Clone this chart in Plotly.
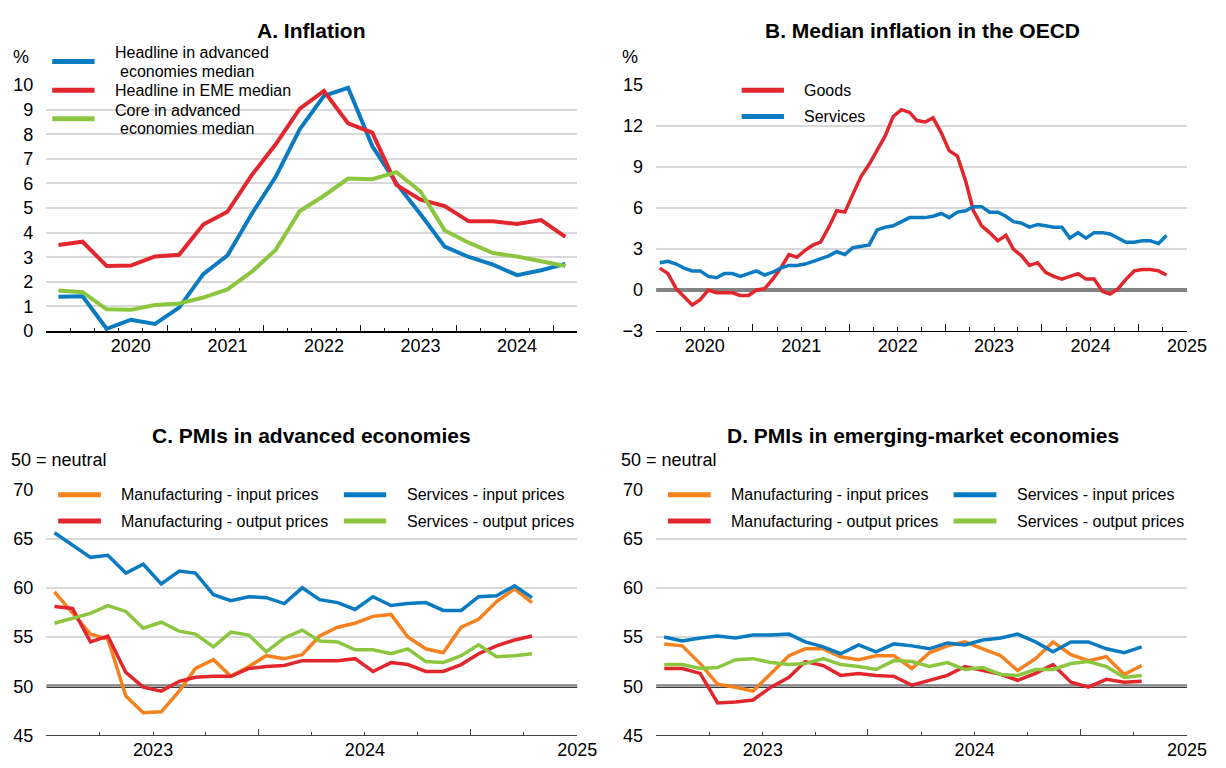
import plotly.graph_objects as go
import pandas as pd

# Page body keeps the browser's default 8px margin, so the figure is sized to fill
# the 1226x768 window exactly; layout positions below are given in window pixels.
WIN_W, WIN_H, BODY_M = 1226, 768, 8
W, H = WIN_W - 2 * BODY_M, WIN_H - 2 * BODY_M
FONT = "Liberation Sans"

BLUE = "#0A7BC1"
RED = "#E1262D"
GREEN = "#8CC63F"
ORANGE = "#F5821F"
GRID = "#D9D9D9"

# ---------------- Panel A: quarterly inflation (2019Q2 - 2024Q3) ----------------
quarters_A = [str(p) for p in pd.period_range("2019Q2", "2024Q3", freq="Q")]
headline_ae = [1.39, 1.41, 0.09, 0.46, 0.29, 0.95, 2.31, 3.07, 4.75, 6.27, 8.21,
               9.56, 9.89, 7.52, 6.00, 4.75, 3.43, 3.01, 2.70, 2.27, 2.47, 2.73]
headline_eme = [3.50, 3.63, 2.64, 2.66, 3.03, 3.10, 4.33, 4.85, 6.33, 7.59, 9.04,
                9.76, 8.44, 8.07, 5.94, 5.34, 5.08, 4.46, 4.46, 4.35, 4.51, 3.83]
core_ae = [1.65, 1.58, 0.88, 0.86, 1.06, 1.12, 1.36, 1.69, 2.40, 3.30, 4.88,
           5.50, 6.20, 6.17, 6.46, 5.67, 4.09, 3.59, 3.17, 3.03, 2.84, 2.64]
years_A = ["2020", "2021", "2022", "2023", "2024"]

# ---------------- Panel B: monthly median inflation OECD (Jul 2019 - Oct 2024) ----
months_B = pd.date_range("2019-07-01", "2024-10-01", freq="MS")
goods = [1.6, 1.2, 0.1, -0.5, -1.1, -0.7, 0.0, -0.2, -0.2, -0.2, -0.4, -0.4,
         0.0, 0.1, 0.8, 1.6, 2.6, 2.4, 2.9, 3.3, 3.5, 4.6, 5.8, 5.7,
         7.0, 8.3, 9.2, 10.2, 11.3, 12.7, 13.2, 13.0, 12.4, 12.3, 12.6, 11.5,
         10.2, 9.8, 8.0, 5.8, 4.7, 4.2, 3.6, 4.0, 3.0, 2.5, 1.8, 2.0,
         1.3, 1.0, 0.8, 1.0, 1.2, 0.8, 0.8, -0.1, -0.3, 0.1, 0.8, 1.4,
         1.5, 1.5, 1.4, 1.1]
services = [2.0, 2.1, 1.9, 1.6, 1.4, 1.4, 1.0, 0.9, 1.2, 1.2, 1.0, 1.2,
            1.4, 1.1, 1.3, 1.6, 1.8, 1.8, 1.9, 2.1, 2.3, 2.5, 2.8, 2.6,
            3.1, 3.2, 3.3, 4.4, 4.6, 4.7, 5.0, 5.3, 5.3, 5.3, 5.4, 5.6,
            5.3, 5.7, 5.8, 6.1, 6.1, 5.7, 5.7, 5.4, 5.0, 4.9, 4.6, 4.8,
            4.7, 4.6, 4.6, 3.8, 4.2, 3.8, 4.2, 4.2, 4.1, 3.8, 3.5, 3.5,
            3.6, 3.6, 3.4, 4.0]
years_B = ["2020", "2021", "2022", "2023", "2024", "2025"]

# ---------------- Panels C & D: monthly PMIs (Jul 2022 - Oct 2024) ----------------
months_CD = pd.date_range("2022-07-01", "2024-10-01", freq="MS")
years_CD = ["2023", "2024", "2025"]

ae_mfg_input = [59.6, 57.4, 55.3, 54.8, 49.0, 47.3, 47.4, 49.5, 51.8, 52.7, 51.0, 52.0,
                53.1, 52.8, 53.2, 55.1, 56.0, 56.4, 57.1, 57.3, 55.0, 53.8, 53.4, 56.0,
                56.8, 58.6, 59.9, 58.5]
ae_mfg_output = [58.1, 57.9, 54.5, 55.1, 51.4, 49.9, 49.5, 50.5, 50.9, 51.0, 51.0, 51.8,
                 52.0, 52.1, 52.6, 52.6, 52.6, 52.8, 51.5, 52.4, 52.2, 51.5, 51.5, 52.2,
                 53.3, 54.1, 54.7, 55.1]
ae_srv_input = [65.6, 64.3, 63.1, 63.3, 61.5, 62.4, 60.4, 61.7, 61.5, 59.3, 58.7, 59.1,
                59.0, 58.4, 60.0, 58.8, 58.5, 57.8, 59.1, 58.2, 58.4, 58.5, 57.7, 57.7,
                59.1, 59.2, 60.2, 59.0]
ae_srv_output = [56.4, 56.9, 57.4, 58.2, 57.6, 55.9, 56.5, 55.6, 55.3, 54.0, 55.5, 55.2,
                 53.5, 54.9, 55.7, 54.6, 54.5, 53.7, 53.7, 53.3, 53.8, 52.5, 52.4, 53.1,
                 54.2, 53.0, 53.1, 53.3]

eme_mfg_input = [54.3, 54.1, 52.3, 50.2, 49.9, 49.5, 51.3, 53.1, 53.8, 53.8, 53.0, 52.7,
                 53.1, 53.1, 51.8, 53.4, 54.1, 54.5, 53.8, 53.1, 51.6, 52.8, 54.5, 53.2,
                 52.6, 53.0, 51.2, 52.1]
eme_mfg_output = [51.8, 51.8, 51.3, 48.3, 48.4, 48.6, 49.9, 50.9, 52.5, 52.1, 51.1, 51.3,
                  51.1, 51.0, 50.1, 50.6, 51.1, 52.0, 51.6, 51.2, 50.6, 51.3, 52.2, 50.4,
                  49.9, 50.7, 50.4, 50.5]
eme_srv_input = [55.0, 54.6, 54.9, 55.1, 54.9, 55.2, 55.2, 55.3, 54.5, 54.0, 53.3, 54.2,
                 53.5, 54.3, 54.1, 53.8, 54.4, 54.2, 54.7, 54.9, 55.3, 54.5, 53.5, 54.5,
                 54.5, 53.8, 53.4, 54.0]
eme_srv_output = [52.2, 52.2, 51.8, 51.9, 52.7, 52.8, 52.4, 52.2, 52.3, 52.8, 52.2, 52.0,
                  51.7, 52.6, 52.5, 52.0, 52.4, 51.7, 51.9, 51.2, 51.1, 51.7, 51.7, 52.3,
                  52.5, 52.0, 50.9, 51.1]

PMI_NAMES = ["Manufacturing - input prices", "Services - input prices",
             "Manufacturing - output prices", "Services - output prices"]
PMI_COLORS = [ORANGE, BLUE, RED, GREEN]


def px(x):
    return (x - BODY_M) / W


def py(y):
    return 1 - (y - BODY_M) / H


fig = go.Figure()

# ---- axis ranges ----
rngA = [-0.5, len(quarters_A) - 0.5]
rngB = ["2019-07-01", "2025-01-01 08:00"]
rngCD = ["2022-07-01", "2025-01-01 08:00"]


def ref_line(xrng, yval, xa, ya, outer, inner):
    fig.add_trace(go.Scatter(x=xrng, y=[yval, yval], mode="lines", xaxis=xa, yaxis=ya,
                             line=dict(color=outer, width=3.4), showlegend=False,
                             hoverinfo="skip"))
    fig.add_trace(go.Scatter(x=xrng, y=[yval, yval], mode="lines", xaxis=xa, yaxis=ya,
                             line=dict(color=inner, width=1.3), showlegend=False,
                             hoverinfo="skip"))


ref_line(rngB, 0, "x2", "y2", "#5A5A5A", "#929292")
ref_line(rngCD, 50, "x3", "y3", "#3A3A3A", "#D6D6D6")
ref_line(rngCD, 50, "x4", "y4", "#3A3A3A", "#D6D6D6")

# ---- traces ----
xA = list(range(len(quarters_A)))
for name, vals, col in [("Headline in advanced economies median", headline_ae, BLUE),
                        ("Headline in EME median", headline_eme, RED),
                        ("Core in advanced economies median", core_ae, GREEN)]:
    fig.add_trace(go.Scatter(x=xA, y=vals, name=name, mode="lines",
                             line=dict(color=col, width=4), xaxis="x", yaxis="y",
                             showlegend=False))

xB = months_B + pd.Timedelta(days=14)
for name, vals, col in [("Goods", goods, RED), ("Services", services, BLUE)]:
    fig.add_trace(go.Scatter(x=xB, y=vals, name=name, mode="lines",
                             line=dict(color=col, width=3.5), xaxis="x2", yaxis="y2",
                             showlegend=False))

xCD = months_CD + pd.Timedelta(days=14)
for vals, name, col in [(ae_mfg_input, PMI_NAMES[0], ORANGE), (ae_mfg_output, PMI_NAMES[2], RED),
                        (ae_srv_input, PMI_NAMES[1], BLUE), (ae_srv_output, PMI_NAMES[3], GREEN)]:
    fig.add_trace(go.Scatter(x=xCD, y=vals, name=name, mode="lines",
                             line=dict(color=col, width=3.5), xaxis="x3", yaxis="y3",
                             showlegend=False))
for vals, name, col in [(eme_mfg_input, PMI_NAMES[0], ORANGE), (eme_mfg_output, PMI_NAMES[2], RED),
                        (eme_srv_input, PMI_NAMES[1], BLUE), (eme_srv_output, PMI_NAMES[3], GREEN)]:
    fig.add_trace(go.Scatter(x=xCD, y=vals, name=name, mode="lines",
                             line=dict(color=col, width=3.5), xaxis="x4", yaxis="y4",
                             showlegend=False))

# empty traces to register the year-label axes
for xa, ya in [("x5", "y"), ("x6", "y2"), ("x7", "y3"), ("x8", "y4")]:
    fig.add_trace(go.Scatter(x=[], y=[], xaxis=xa, yaxis=ya, showlegend=False,
                             hoverinfo="skip"))

# ---- axes ----
dom_left = [px(47), px(587)]
dom_right = [px(667), px(1207)]
dom_top = [py(330), py(77)]
dom_bot = [py(746), py(493)]

tickfont = dict(family=FONT, size=18, color="black")


def xaxis_main(domain, rng, typ, long_ticks, short_ticks, anchor, linecolor, linewidth):
    return dict(domain=domain, range=rng, type=typ, anchor=anchor,
                showgrid=False, zeroline=False, showline=True,
                linecolor=linecolor, linewidth=linewidth,
                tickmode="array", tickvals=long_ticks, ticks="inside", ticklen=6.5,
                tickwidth=1, tickcolor=linecolor, showticklabels=False,
                minor=dict(tickmode="array", tickvals=short_ticks, ticks="inside",
                           ticklen=3.5, tickwidth=1, tickcolor=linecolor, showgrid=False))


def xaxis_labels(overlay, rng, typ, vals, texts, anchor):
    return dict(overlaying=overlay, anchor=anchor, range=rng, type=typ,
                showgrid=False, zeroline=False, showline=False, ticks="",
                tickmode="array", tickvals=vals, ticktext=texts,
                tickfont=tickfont, ticklabelstandoff=2)


def yaxis(domain, rng, vals, anchor):
    return dict(domain=domain, range=rng, anchor=anchor, showgrid=True, gridcolor=GRID,
                gridwidth=1.5, zeroline=False, showline=False, ticks="",
                tickmode="array", tickvals=vals, tickfont=tickfont,
                ticklabelstandoff=12)


lab_pos_A = [quarters_A.index(y + "Q1") for y in years_A]
long_A = [p + 1.5 for p in lab_pos_A]
short_A = [i + 0.5 for i in range(len(quarters_A) - 1)]
qB = pd.date_range("2019-07-01", "2025-01-01", freq="QS-JAN")
long_B = [d for d in qB if d.month == 7]
short_B = list(qB)
lab_B = [pd.Timestamp(y + "-01-01") for y in years_B]
qCD = pd.date_range("2022-07-01", "2025-01-01", freq="QS-JAN")
long_CD = [d for d in qCD if d.month == 7]
short_CD = list(qCD)
lab_CD = [pd.Timestamp(y + "-01-01") for y in years_CD]

fig.update_layout(
    xaxis=xaxis_main(dom_left, rngA, "linear", long_A, short_A, "y", "black", 2),
    yaxis=yaxis(dom_top, [0, 10], list(range(0, 11)), "x"),
    xaxis2=xaxis_main(dom_right, rngB, "date", long_B, short_B, "y2", "black", 1.2),
    yaxis2=yaxis(dom_top, [-3, 15], list(range(-3, 16, 3)), "x2"),
    xaxis3=xaxis_main(dom_left, rngCD, "date", long_CD, short_CD, "y3", "#444444", 1.2),
    yaxis3=yaxis(dom_bot, [45, 70], list(range(45, 71, 5)), "x3"),
    xaxis4=xaxis_main(dom_right, rngCD, "date", long_CD, short_CD, "y4", "#444444", 1.2),
    yaxis4=yaxis(dom_bot, [45, 70], list(range(45, 71, 5)), "x4"),
    xaxis5=xaxis_labels("x", rngA, "linear", lab_pos_A, years_A, "y"),
    xaxis6=xaxis_labels("x2", rngB, "date", lab_B, years_B, "y2"),
    xaxis7=xaxis_labels("x3", rngCD, "date", lab_CD, years_CD, "y3"),
    xaxis8=xaxis_labels("x4", rngCD, "date", lab_CD, years_CD, "y4"),
)

shapes = []
annotations = []


def text(x, y, s, size=16, anchor="left", bold=False):
    annotations.append(dict(x=px(x), y=py(y), xref="paper", yref="paper",
                            text=("<b>%s</b>" % s) if bold else s,
                            showarrow=False, xanchor=anchor, yanchor="middle",
                            font=dict(family=FONT, size=size, color="black")))


def key(x0, x1, y, color):
    shapes.append(dict(type="line", xref="paper", yref="paper", x0=px(x0), x1=px(x1),
                       y0=py(y), y1=py(y), line=dict(color=color, width=5)))


# titles
text(317, 21, "A. Inflation", size=21, anchor="center", bold=True)
text(938, 21, "B. Median inflation in the OECD", size=21, anchor="center", bold=True)
text(317, 437, "C. PMIs in advanced economies", size=21, anchor="center", bold=True)
text(938, 437, "D. PMIs in emerging-market economies", size=21, anchor="center", bold=True)
# units
text(11, 48, "%", size=18)
text(630, 48, "%", size=18)
text(9, 463, "50 = neutral", size=18)
text(629, 463, "50 = neutral", size=18)

# Legend A
key(53, 96, 52.7, BLUE)
text(115, 44, "Headline in advanced")
text(119.5, 62.7, "economies median")
key(53, 96, 82.3, RED)
text(115, 82.3, "Headline in EME median")
key(53, 96, 111.7, GREEN)
text(115, 102.7, "Core in advanced")
text(119.5, 121.7, "economies median")

# Legend B
key(754, 797, 82.3, RED)
text(815.5, 82.3, "Goods")
key(754, 797, 109.3, BLUE)
text(815.5, 109.3, "Services")

# Legends C and D
rows = [498.5, 525.5]
for kx0, kx1, tx, kx0b, kx1b, txb in [(59, 102.5, 121, 349.5, 392.5, 411.5),
                                       (679, 722.5, 741, 969.5, 1013, 1032)]:
    key(kx0, kx1, rows[0], PMI_COLORS[0])
    text(tx, rows[0], PMI_NAMES[0])
    key(kx0b, kx1b, rows[0], PMI_COLORS[1])
    text(txb, rows[0], PMI_NAMES[1])
    key(kx0, kx1, rows[1], PMI_COLORS[2])
    text(tx, rows[1], PMI_NAMES[2])
    key(kx0b, kx1b, rows[1], PMI_COLORS[3])
    text(txb, rows[1], PMI_NAMES[3])

fig.update_layout(
    width=W, height=H, autosize=False,
    margin=dict(l=0, r=0, t=0, b=0),
    paper_bgcolor="white", plot_bgcolor="white",
    font=dict(family=FONT, size=16, color="black"),
    shapes=shapes, annotations=annotations, showlegend=False,
)

fig.write_html("out.html", config={"displayModeBar": False})
